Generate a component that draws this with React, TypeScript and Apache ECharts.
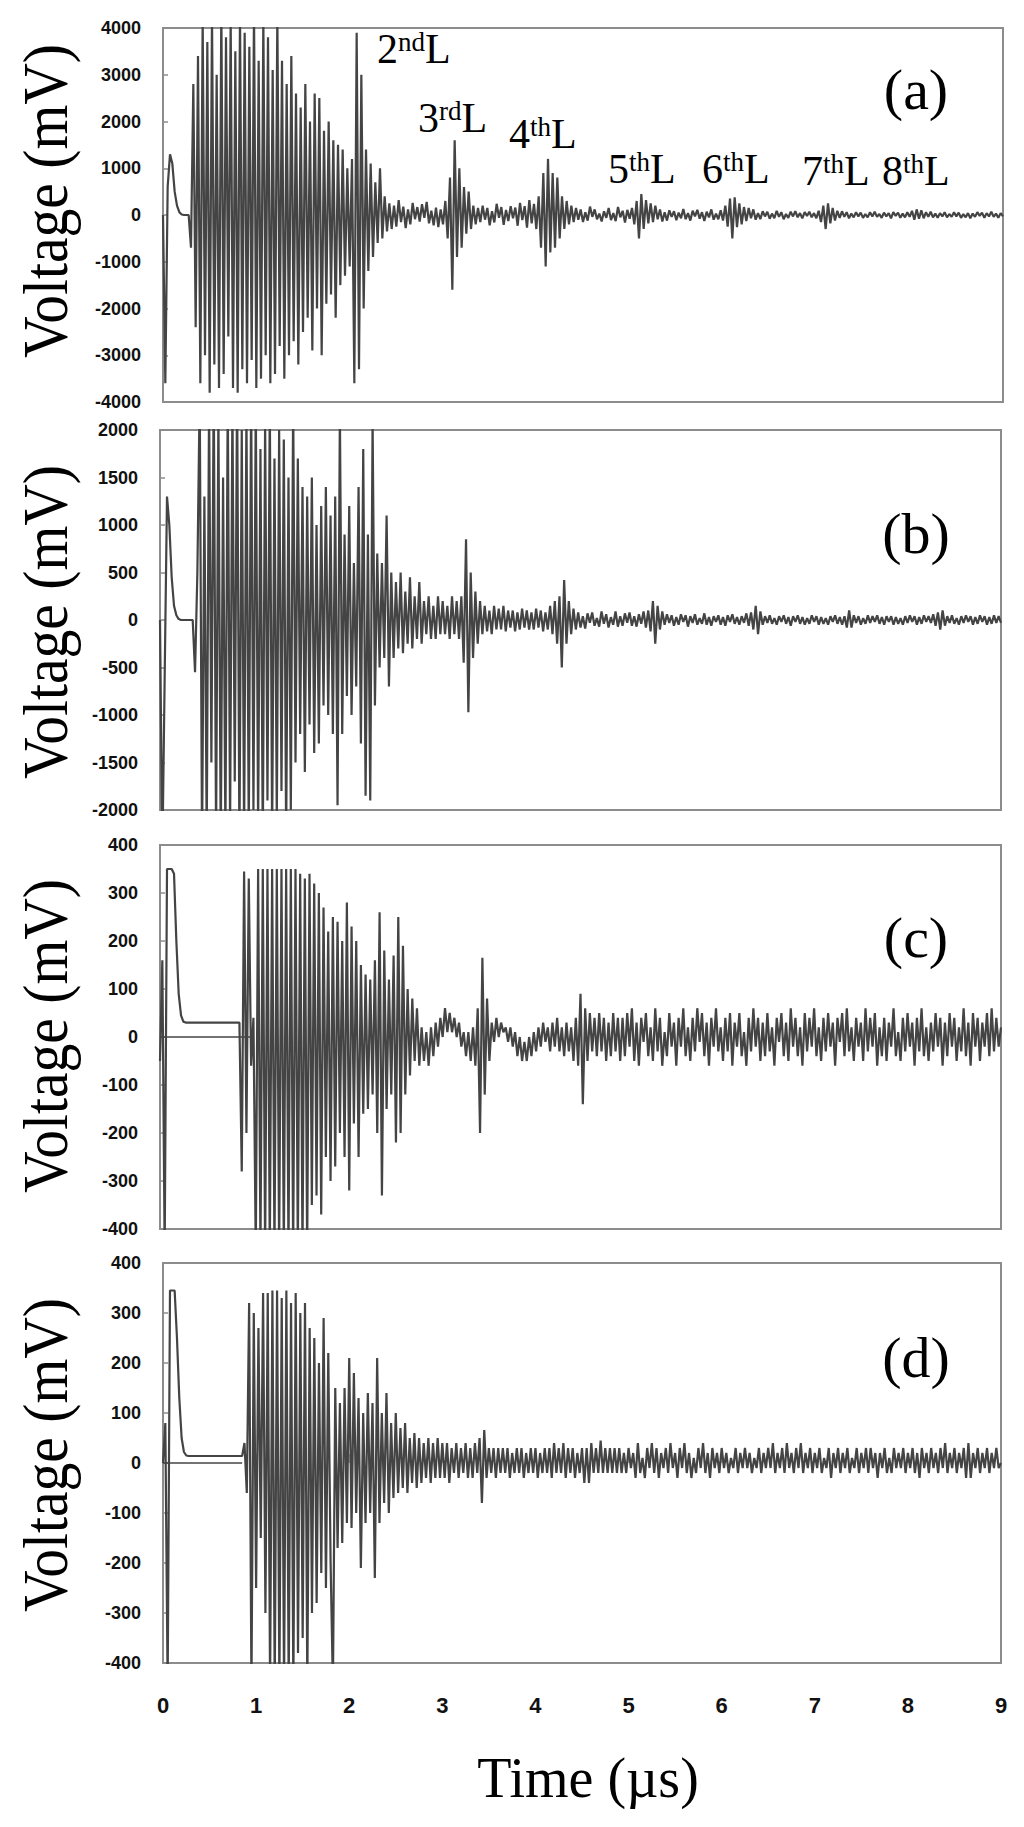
import React, { useEffect, useRef } from "react";
import * as echarts from "echarts";

// ---------------- DATA ----------------
// sampling step of the digitised traces (µs)
const DT = 0.025;
const timeMin = 0;
const timeMax = 9;
const timeStep = 1;

// y-axis ranges [min, max, interval] for panels a, b, c, d (mV)
const yRangeA = [-4000, 4000, 1000];
const yRangeB = [-2000, 2000, 500];
const yRangeC = [-400, 400, 100];
const yRangeD = [-400, 400, 100];

const panelLetters = ["(a)", "(b)", "(c)", "(d)"];
const echoNumbers = ["2", "3", "4", "5", "6", "7", "8"];
const echoSuffixes = ["nd", "rd", "th", "th", "th", "th", "th"];

// trace (a), one value every 0.025 µs from 0 to 9 µs
const voltsA = [
  0, -3600, 600, 1300, 1100, 500, 200, 60, 10, 0, 0, 0, -700, 2800, -2400, 3400, -3600, 4200, -3000, 3700,
  -3800, 4300, -3200, 3000, -3700, 4400, -3400, 3800, -2600, 4200, -3700, 3500, -3800, 4300, -3300, 3900, -3600, 3600, -3100, 4400,
  -3700, 3300, -3500, 4200, -3000, 3800, -3600, 3100, -3400, 4300, -2800, 3300, -3500, 2800, -3000, 3400, -2700, 2600, -3200, 2300,
  -2500, 2800, -2200, 2000, -2900, 2600, -2000, 2500, -3000, 1800, -1900, 2000, -1700, 1600, -2200, 1500, -1500, 1400, -1300, 1000,
  -1100, 1200, -3600, 3900, -3300, 3000, -2000, 1400, -1200, 1100, -900, 700, -600, 1000, -500, 400, -350, 250, -300, 200,
  -250, 320, -150, 180, -280, 120, -200, 260, -90, 170, -140, 230, -60, 280, -180, 90, -220, 160, -260, 120,
  -200, 300, -500, 800, -1600, 1600, -900, 1000, -700, 600, -400, 500, -300, 200, -200, 150, -150, 200, -100, 150,
  -220, 80, -160, 240, -60, 170, -210, 110, -130, 190, -70, 160, -230, 260, -110, 190, -270, 320, -180, 240,
  -300, 400, -700, 900, -1100, 1200, -800, 900, -700, 800, -500, 400, -300, 300, -200, 200, -150, 150, -100, 120,
  -150, 60, -120, 180, -40, 120, -90, 30, -140, 80, -60, 150, -110, 40, -130, 170, -50, 90, -160, 110,
  -80, 150, -200, 300, -500, 450, -300, 320, -180, 250, -150, 200, -90, 120, -140, 60, -120, 100, -40, 80,
  -110, 50, -70, 130, -90, 40, -120, 90, -30, 110, -80, 60, -130, 70, -50, 120, -100, 30, -90, 100,
  -120, 200, -250, 350, -500, 380, -260, 250, -200, 170, -130, 150, -70, 120, -100, 40, -90, 80, -30, 70,
  -80, 30, -70, 90, -40, 60, -90, 20, -60, 70, -30, 80, -50, 40, -70, 60, -20, 70, -50, 40,
  -70, 90, -150, 200, -300, 250, -180, 150, -120, 90, -60, 80, -40, 60, -70, 30, -50, 60, -30, 50,
  -60, 20, -50, 60, -30, 70, -40, 20, -60, 50, -30, 40, -70, 60, -20, 50, -60, 30, -50, 60,
  -40, 90, -100, 120, -80, 100, -70, 60, -40, 70, -50, 30, -60, 40, -30, 60, -50, 20, -40, 60,
  -30, 50, -60, 20, -50, 40, -70, 30, -40, 60, -20, 50, -60, 40, -30, 70, -40, 30, -60, 40,
  -30,
];

// trace (b)
const voltsB = [
  0, -2500, -600, 1300, 1000, 450, 150, 50, 10, 0, 0, 0, 0, 0, 0, -550, 500, 2400, -2400, 1300,
  -2300, 2300, -1500, 2500, -2300, 2200, -2400, 1500, -2300, 2400, -2200, 2300, -1700, 2500, -2400, 2000, -2300, 2200, -2300, 2400,
  -2000, 2300, -2200, 1800, -2400, 2100, -1900, 2300, -2300, 1700, -2100, 2000, -1800, 1900, -2300, 1500, -2000, 2300, -1500, 1700,
  -1200, 1400, -1600, 1300, -1100, 1500, -1400, 1000, -1300, 1200, -900, 1400, -1000, 1100, -1200, 1300, -1950, 2200, -1200, 900,
  -800, 1200, -1000, 600, -700, 1400, -1300, 1800, -1850, 900, -1900, 2100, -900, 700, -500, 600, -400, 1100, -700, 500,
  -400, 400, -300, 500, -350, 300, -250, 450, -300, 250, -200, 400, -250, 200, -150, 250, -200, 150, -200, 250,
  -150, 200, -150, 150, -200, 250, -150, 200, -200, 250, -450, 850, -970, 500, -400, 300, -250, 200, -150, 150,
  -120, 100, -150, 150, -100, 120, -100, 150, -120, 100, -80, 100, -120, 80, -100, 120, -80, 100, -100, 80,
  -100, 120, -80, 100, -120, 80, -100, 150, -150, 200, -250, 250, -500, 420, -250, 200, -150, 120, -100, 80,
  -80, 40, -90, 70, -30, 80, -60, 20, -70, 90, -40, 60, -80, 30, -50, 90, -70, 40, -60, 70,
  -30, 80, -60, 40, -70, 60, -40, 90, -80, 100, -120, 200, -250, 150, -100, 90, -50, 60, -30, 50,
  -60, 30, -50, 60, -20, 50, -70, 40, -30, 60, -50, 20, -40, 70, -50, 30, -60, 40, -20, 50,
  -50, 30, -60, 50, -20, 60, -40, 30, -50, 40, -30, 70, -60, 80, -100, 150, -150, 90, -50, 40,
  -30, 50, -40, 20, -50, 40, -20, 50, -40, 30, -60, 40, -20, 50, -40, 30, -50, 20, -40, 50,
  -20, 40, -50, 30, -40, 20, -50, 40, -20, 50, -40, 30, -50, 40, -80, 100, -80, 50, -30, 40,
  -50, 20, -40, 50, -30, 40, -20, 50, -40, 30, -50, 40, -20, 40, -50, 30, -40, 20, -50, 40,
  -30, 50, -20, 40, -50, 30, -40, 50, -20, 40, -30, 60, -60, 80, -100, 100, -60, 40, -30, 50,
  -40, 20, -50, 40, -30, 50, -20, 40, -50, 30, -40, 50, -20, 40, -50, 30, -40, 50, -30, 40,
  -30,
];

// trace (c)
const voltsC = [
  -50, 160, -450, 350, 350, 350, 340, 200, 90, 45, 32, 30, 30, 30, 30, 30, 30, 30, 30, 30,
  30, 30, 30, 30, 30, 30, 30, 30, 30, 30, 30, 30, 30, 30, 30, -280, 345, -200, 330, -60,
  40, -450, 350, -450, 350, -450, 350, -450, 350, -450, 350, -450, 350, -450, 350, -450, 350, -450, 350, -450,
  340, -450, 330, -450, 340, -350, 320, -330, 300, -370, 270, -250, 220, -300, 250, -270, 240, -200, 200, -250,
  280, -320, 230, -180, 200, -250, 150, -160, 130, -150, 120, -120, 160, -200, 260, -330, 180, -150, 120, -120,
  170, -220, 250, -200, 190, -120, 100, -80, 80, -50, 60, -60, 20, -50, 10, -60, 20, -40, 30, -20,
  40, 0, 60, 10, 50, 10, 40, 0, 30, -20, 10, -40, 10, -50, 20, -60, 60, -200, 165, -120,
  80, -50, 30, -10, 40, 0, 30, 10, 20, -10, 20, -20, 10, -40, 0, -50, -10, -50, 0, -40,
  10, -30, 20, -20, 30, -10, 20, -30, 30, -20, 40, -30, 20, -40, 30, -30, 20, -50, 40, -60,
  90, -140, 60, -50, 50, -30, 40, -40, 50, -30, 40, -50, 30, -40, 50, -30, 40, -50, 40, -40,
  50, -20, 60, -50, 30, -60, 40, -10, 50, -40, 20, -50, 60, -30, 40, -60, 10, -40, 50, -20,
  30, -60, 40, -20, 60, -40, 20, -50, 40, -30, 60, -10, 50, -40, 30, -60, 40, -20, 60, -30,
  20, -50, 40, -30, 50, -60, 30, -20, 50, -40, 10, -60, 40, -30, 60, -20, 40, -50, 30, -40,
  50, -30, 20, -60, 40, -10, 50, -40, 30, -50, 60, -20, 40, -40, 20, -60, 50, -30, 40, -20,
  60, -40, 20, -50, 40, -30, 50, -20, 30, -60, 40, -10, 50, -40, 60, -30, 20, -50, 40, -20,
  30, -50, 60, -30, 40, -20, 50, -60, 20, -40, 40, -50, 30, -20, 60, -40, 10, -50, 40, -30,
  50, -20, 30, -60, 40, -30, 60, -40, 20, -50, 30, -30, 50, -20, 40, -60, 30, -40, 50, -20,
  40, -50, 20, -30, 60, -40, 30, -60, 50, -20, 40, -50, 30, -20, 50, -40, 60, -30, 40, -20,
  20,
];

// trace (d)
const voltsD = [
  0, 80, -450, 345, 345, 345, 250, 130, 50, 22, 15, 14, 14, 14, 14, 14, 14, 14, 14, 14,
  14, 14, 14, 14, 14, 14, 14, 14, 14, 14, 14, 14, 14, 14, 14, 40, -60, 320, -450, 300,
  -250, 270, -150, 340, -300, 340, -450, 345, -450, 345, -450, 330, -450, 345, -450, 320, -450, 340, -380, 300,
  -350, 320, -450, 270, -300, 250, -280, 200, -220, 290, -250, 220, -200, -450, 150, -170, 120, -160, 150, -120,
  210, -130, 180, -100, 130, -210, 100, -120, 140, -100, 120, -230, 210, -120, 100, -80, 140, -100, 80, -70,
  100, -60, 70, -50, 80, -60, 50, -40, 60, -50, 50, -40, 40, -30, 50, -40, 40, -30, 50, -30,
  40, -30, 40, -40, 30, -20, 40, -30, 30, -20, 40, -30, 30, -30, 40, -20, 50, -80, 66, -30,
  30, -20, 30, -30, 30, -20, 30, -20, 30, -30, 20, -20, 30, -20, 30, -30, 20, -20, 30, -20,
  30, -30, 20, -20, 30, -20, 30, -30, 40, -20, 30, -20, 40, -30, 30, -20, 30, -30, 20, -20,
  30, -40, 30, -40, 40, -20, 30, -20, 45, -20, 30, -20, 30, -20, 30, -20, 30, -20, 20, -20,
  30, -10, 20, -30, 40, -20, 10, -30, 30, -10, 40, -20, 30, -30, 20, -10, 30, -20, 40, -10,
  20, -30, 30, -10, 40, -20, 20, -30, 10, -20, 30, -10, 40, -20, 20, -30, 30, -10, 20, -20,
  30, -10, 20, -20, 10, -10, 30, -20, 20, -10, 30, -10, 20, -20, 10, -10, 30, -20, 20, -10,
  30, -10, 40, -20, 20, -10, 30, -20, 40, -10, 20, -20, 30, -10, 40, -20, 20, -10, 30, -20,
  20, -10, 30, -20, 10, -10, 30, -30, 20, -10, 30, -20, 20, -10, 30, -20, 10, -10, 30, -20,
  20, -10, 30, -20, 30, -10, 20, -30, 20, -10, 30, -20, 10, -20, 30, -10, 20, -10, 30, -20,
  20, -10, 30, -20, 20, -30, 30, -10, 20, -20, 30, -10, 20, -20, 30, -10, 40, -20, 20, -10,
  30, -20, 20, -10, 30, -30, 40, -30, 20, -10, 30, -20, 20, -10, 30, -20, 20, -10, 30, -10,
  0,
];

// zero reference traces shown at the start of panels (c) and (d)
const baseTimesC = [0, 1.0];
const baseVoltsC = [0, 0];
const baseTimesD = [0, 0.85];
const baseVoltsD = [0, 0];

// ---------------- LAYOUT ----------------
const W = 1024;
const H = 1827;
const TRACE = "#444444";
const FRAME = "#8c8c8c";
const SERIF = "'Liberation Serif', 'Times New Roman', serif";
const SANS = "'Liberation Sans', Arial, sans-serif";

const grids = [
  { left: 163, top: 28, width: 840, height: 374 },
  { left: 160, top: 430, width: 841, height: 380 },
  { left: 160, top: 845, width: 841, height: 384 },
  { left: 163, top: 1263, width: 838, height: 400 },
];

const toPairs = (t: number[] | null, v: number[]) =>
  v.map((y, i) => [t ? t[i] : Number((i * DT).toFixed(3)), y]);

function buildOption() {
  const yRanges = [yRangeA, yRangeB, yRangeC, yRangeD];
  const traces = [voltsA, voltsB, voltsC, voltsD];

  const xAxis = grids.map((_, k) => ({
    type: "value",
    gridIndex: k,
    min: timeMin,
    max: timeMax,
    interval: timeStep,
    axisLine: { show: false },
    splitLine: { show: false },
    axisTick: {
      show: k === 3,
      inside: true,
      length: 9,
      lineStyle: { color: FRAME, width: 1.5 },
    },
    axisLabel: {
      show: k === 3,
      margin: 31,
      fontSize: 22,
      fontWeight: "bold",
      fontFamily: SANS,
      color: "#111",
      showMinLabel: true,
      showMaxLabel: true,
      formatter: (v: number) => String(v),
    },
  }));

  const yAxis = grids.map((_, k) => ({
    type: "value",
    gridIndex: k,
    min: yRanges[k][0],
    max: yRanges[k][1],
    interval: yRanges[k][2],
    axisLine: { show: false },
    splitLine: { show: false },
    axisTick: { show: true, inside: true, length: 5, lineStyle: { color: FRAME, width: 1.5 } },
    axisLabel: {
      margin: 22,
      fontSize: 18,
      fontWeight: "bold",
      fontFamily: SANS,
      color: "#111",
      showMinLabel: true,
      showMaxLabel: true,
      formatter: (v: number) => String(v),
    },
  }));

  const series: any[] = [];
  const baseLines: [number, number[], number[]][] = [
    [2, baseTimesC, baseVoltsC],
    [3, baseTimesD, baseVoltsD],
  ];
  baseLines.forEach(([k, t, v]) => {
    series.push({
      type: "line",
      xAxisIndex: k,
      yAxisIndex: k,
      data: toPairs(t, v),
      symbol: "none",
      silent: true,
      lineStyle: { color: TRACE, width: 1.6 },
    });
  });
  traces.forEach((v, k) => {
    series.push({
      type: "line",
      xAxisIndex: k,
      yAxisIndex: k,
      data: toPairs(null, v),
      symbol: "none",
      clip: true,
      silent: true,
      lineStyle: { color: TRACE, width: 2.2, join: "bevel" },
    });
  });

  const graphic: any[] = [];
  const yTitleCenters = [201, 622, 1036, 1455];
  yTitleCenters.forEach((cy) => {
    graphic.push({
      type: "text",
      x: 45,
      y: cy,
      rotation: Math.PI / 2,
      scaleX: 0.9,
      style: {
        text: "Voltage (mV)",
        fontSize: 64,
        fontFamily: SERIF,
        fill: "#000",
        align: "center",
        verticalAlign: "middle",
        textAlign: "center",
        textVerticalAlign: "middle",
      },
    });
  });

  const letterCenters = [89, 533, 937, 1357];
  panelLetters.forEach((s, k) => {
    graphic.push({
      type: "text",
      x: 916,
      y: letterCenters[k],
      style: {
        text: s,
        fontSize: 58,
        fontFamily: SERIF,
        fill: "#000",
        align: "center",
        verticalAlign: "middle",
        textAlign: "center",
        textVerticalAlign: "middle",
      },
    });
  });

  // echo annotations in panel (a): [left x, baseline y]
  const echoPlaces = [
    [377, 63],
    [418, 132],
    [509, 148],
    [608, 183],
    [702, 183],
    [802, 185],
    [882, 185],
  ];
  echoNumbers.forEach((n, k) => {
    graphic.push({
      type: "text",
      x: echoPlaces[k][0],
      y: echoPlaces[k][1] - 35,
      style: {
        text: `{b|${n}}{s|${echoSuffixes[k]}}{b|L}`,
        align: "left",
        verticalAlign: "top",
        textAlign: "left",
        textVerticalAlign: "top",
        fill: "#000",
        rich: {
          b: { fontSize: 42, lineHeight: 42, fontFamily: SERIF, fill: "#000" },
          s: { fontSize: 27, lineHeight: 22, fontFamily: SERIF, fill: "#000", verticalAlign: "top" },
        },
      },
    });
  });

  graphic.push({
    type: "text",
    x: 588,
    y: 1778,
    style: {
      text: "Time (\u00b5s)",
      fontSize: 56,
      fontFamily: SERIF,
      fill: "#000",
      align: "center",
      verticalAlign: "middle",
      textAlign: "center",
      textVerticalAlign: "middle",
    },
  });

  return {
    animation: false,
    backgroundColor: "#ffffff",
    grid: grids.map((g) => ({
      ...g,
      show: true,
      borderColor: FRAME,
      borderWidth: 2,
      backgroundColor: "transparent",
      containLabel: false,
    })),
    xAxis,
    yAxis,
    series,
    graphic,
  };
}

export default function App() {
  const ref = useRef<HTMLDivElement | null>(null);
  useEffect(() => {
    if (!ref.current) return;
    const chart = echarts.init(ref.current, undefined, { renderer: "svg", width: W, height: H });
    chart.setOption(buildOption() as any);
    return () => chart.dispose();
  }, []);
  return (
    <div
      ref={ref}
      style={{ position: "absolute", left: 0, top: 0, width: W, height: H, background: "#fff" }}
    />
  );
}
